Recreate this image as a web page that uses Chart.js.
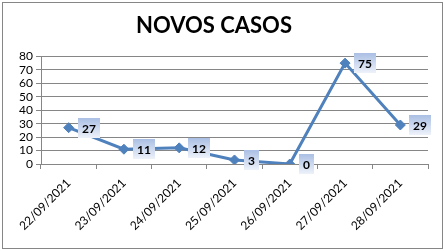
<!DOCTYPE html>
<html>
<head>
<meta charset="utf-8">
<script src="https://cdn.jsdelivr.net/npm/chart.js@4"></script>
<style>
html,body{margin:0;padding:0;background:#fff;}
#wrap{width:445px;height:251px;position:relative;}
</style>
</head>
<body>
<div id="wrap"><canvas id="c" width="445" height="251"></canvas></div>
<script>
const title = 'NOVOS CASOS';
const categories = ['22/09/2021','23/09/2021','24/09/2021','25/09/2021','26/09/2021','27/09/2021','28/09/2021'];
const novosCasos = [27, 11, 12, 3, 0, 75, 29];
const yTicks = [0, 10, 20, 30, 40, 50, 60, 70, 80];

const frame = {
  id: 'frame',
  beforeDraw(chart) {
    const ctx = chart.ctx;
    ctx.save();
    ctx.fillStyle = '#ffffff';
    ctx.fillRect(0, 0, chart.width, chart.height);
    ctx.strokeStyle = '#868686';
    ctx.lineWidth = 1;
    ctx.strokeRect(2.5, 2.5, chart.width - 5, chart.height - 5);
    ctx.restore();
  }
};

const labelBoxes = {
  id: 'labelBoxes',
  afterDatasetsDraw(chart) {
    const ctx = chart.ctx;
    const meta = chart.getDatasetMeta(0);
    ctx.save();
    ctx.font = 'bold 12px Lato, "Liberation Sans", sans-serif';
    ctx.textBaseline = 'middle';
    ctx.textAlign = 'left';
    meta.data.forEach((pt, i) => {
      const txt = String(chart.data.datasets[0].data[i]);
      const w = ctx.measureText(txt).width;
      const bw = Math.round(w + 8), bh = 20;
      const bx = Math.round(pt.x + 9), by = Math.round(pt.y - bh / 2);
      const g = ctx.createLinearGradient(0, by, 0, by + bh);
      g.addColorStop(0, '#aabfe4');
      g.addColorStop(1, '#eef2fa');
      ctx.fillStyle = g;
      ctx.fillRect(bx, by, bw, bh);
      ctx.fillStyle = '#000000';
      ctx.fillText(txt, bx + 4, by + bh / 2 + 1);
    });
    ctx.restore();
  }
};

new Chart(document.getElementById('c'), {
  type: 'line',
  data: {
    labels: categories,
    datasets: [{
      data: novosCasos,
      borderColor: '#4f81bd',
      backgroundColor: '#4f81bd',
      borderWidth: 3,
      pointStyle: 'rectRot',
      pointRadius: 5,
      pointBorderWidth: 1,
      pointBackgroundColor: '#4f81bd',
      pointBorderColor: '#4f81bd',
      tension: 0,
      fill: false
    }]
  },
  options: {
    responsive: false,
    animation: false,
    devicePixelRatio: 1,
    layout: { padding: { left: 0, right: 17, top: 0, bottom: 0 } },
    plugins: {
      legend: { display: false },
      tooltip: { enabled: false },
      title: {
        display: true,
        text: title,
        color: '#000000',
        font: { family: 'Lato, "Liberation Sans", sans-serif', size: 22, weight: 'bold' },
        padding: { top: 13, bottom: 17 }
      }
    },
    scales: {
      x: {
        type: 'category',
        offset: true,
        afterFit(s) { s.height = 87; },
        grid: { display: true, drawOnChartArea: false, drawTicks: true, tickLength: 5, offset: true, color: '#868686' },
        border: { display: true, color: '#868686', width: 1 },
        ticks: {
          minRotation: 45, maxRotation: 45, autoSkip: false, padding: 7,
          color: '#000000',
          font: { family: 'Lato, "Liberation Sans", sans-serif', size: 12 }
        }
      },
      y: {
        min: 0, max: 80,
        afterFit(s) { s.width = 41; },
        afterBuildTicks(s) { s.ticks = yTicks.map(v => ({ value: v })); },
        grid: { color: '#868686', lineWidth: 1, drawTicks: true, tickLength: 5 },
        border: { display: true, color: '#868686', width: 1 },
        ticks: {
          autoSkip: false,
          stepSize: 10,
          padding: 3,
          color: '#000000',
          font: { family: 'Lato, "Liberation Sans", sans-serif', size: 12 }
        }
      }
    }
  },
  plugins: [frame, labelBoxes]
});
</script>
</body>
</html>
